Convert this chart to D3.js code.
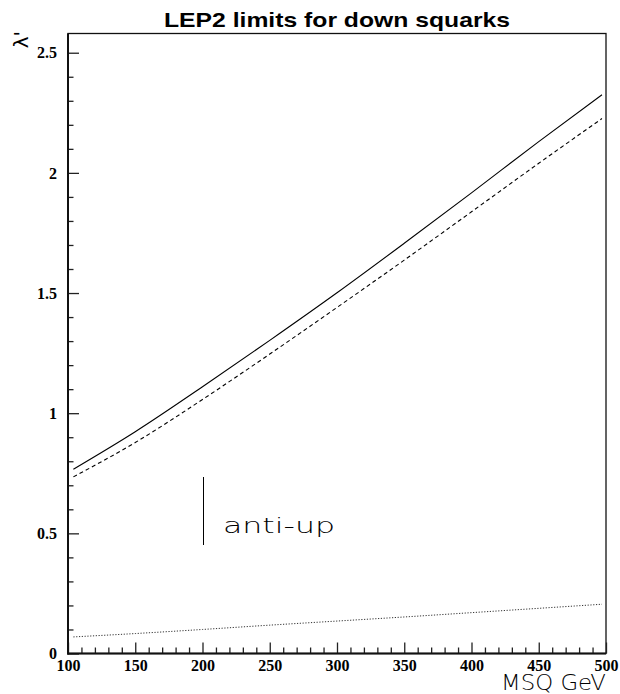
<!DOCTYPE html>
<html>
<head>
<meta charset="utf-8">
<script src="https://cdn.jsdelivr.net/npm/d3@7"></script>
<style>
  html, body { margin: 0; padding: 0; background: #fff; }
  svg { display: block; }
</style>
</head>
<body>
<script>
// Squark mass grid (GeV) and the λ' limits for each curve
const masses      = [104, 150, 200, 250, 300, 350, 400, 450, 497];
const limitSolid  = [0.767, 0.923, 1.110, 1.303, 1.501, 1.707, 1.917, 2.130, 2.325];
const limitDashed = [0.735, 0.878, 1.057, 1.246, 1.440, 1.637, 1.838, 2.040, 2.226];
const limitDotted = [0.069, 0.083, 0.100, 0.118, 0.135, 0.152, 0.170, 0.188, 0.205];

const xMajorTicks = [100, 150, 200, 250, 300, 350, 400, 450, 500];
const yMajorTicks = [0, 0.5, 1, 1.5, 2, 2.5];
const yTickLabels = ["0", "0.5", "1", "1.5", "2", "2.5"];

const W = 620, H = 694;
const plotLeft = 68, plotRight = 606, plotTop = 33.5, plotBottom = 653.5;

const svg = d3.select("body").append("svg").attr("width", W).attr("height", H);

const x = d3.scaleLinear().domain([100, 500]).range([plotLeft, plotRight]);
const y = d3.scaleLinear().domain([0, 2.58]).range([plotBottom, plotTop]);

// Title
svg.append("text")
  .attr("x", (plotLeft + plotRight) / 2).attr("y", 27)
  .attr("text-anchor", "middle")
  .attr("font-family", "Liberation Sans, Arial, sans-serif")
  .attr("font-weight", "bold").attr("font-size", 21)
  .attr("textLength", 346).attr("lengthAdjust", "spacingAndGlyphs")
  .text("LEP2 limits for down squarks");

// Frame
svg.append("rect")
  .attr("x", plotLeft).attr("y", plotTop)
  .attr("width", plotRight - plotLeft).attr("height", plotBottom - plotTop)
  .attr("fill", "none").attr("stroke", "#111").attr("stroke-width", 1.3);

const labelFont = "Liberation Serif, Times New Roman, serif";

// Minor ticks
const xMinor = d3.range(100, 501, 10).filter(v => v % 50 !== 0);
svg.append("g").attr("transform", `translate(0,${plotBottom})`)
  .call(d3.axisBottom(x).tickValues(xMinor).tickSize(-6).tickFormat(""))
  .call(g => g.select(".domain").remove())
  .call(g => g.selectAll("line").attr("stroke", "#222").attr("stroke-width", 1.3));

const yMinor = d3.range(0, 26).map(i => i / 10).filter(v => Math.abs(v * 2 - Math.round(v * 2)) > 1e-6);
svg.append("g").attr("transform", `translate(${plotLeft},0)`)
  .call(d3.axisLeft(y).tickValues(yMinor).tickSize(-5.5).tickFormat(""))
  .call(g => g.select(".domain").remove())
  .call(g => g.selectAll("line").attr("stroke", "#222").attr("stroke-width", 1.3));

// Major ticks with labels
svg.append("g").attr("transform", `translate(0,${plotBottom})`)
  .call(d3.axisBottom(x).tickValues(xMajorTicks).tickSize(-11).tickPadding(6).tickFormat(d3.format("d")))
  .call(g => g.select(".domain").remove())
  .call(g => g.selectAll("line").attr("stroke", "#222").attr("stroke-width", 1.3))
  .call(g => g.selectAll("text")
    .attr("font-family", labelFont).attr("font-weight", "bold")
    .attr("font-size", 16).attr("fill", "#000"));

svg.append("g").attr("transform", `translate(${plotLeft},0)`)
  .call(d3.axisLeft(y).tickValues(yMajorTicks).tickSize(-11).tickPadding(11)
    .tickFormat((d, i) => yTickLabels[i]))
  .call(g => g.select(".domain").remove())
  .call(g => g.selectAll("line").attr("stroke", "#222").attr("stroke-width", 1.3))
  .call(g => g.selectAll("text")
    .attr("font-family", labelFont).attr("font-weight", "bold")
    .attr("font-size", 16).attr("fill", "#000"));

// Heavier left and bottom axis lines
svg.append("line").attr("x1", plotLeft).attr("x2", plotLeft).attr("y1", plotTop).attr("y2", plotBottom + 1)
  .attr("stroke", "#111").attr("stroke-width", 2);
svg.append("line").attr("x1", plotLeft - 1).attr("x2", plotRight).attr("y1", plotBottom).attr("y2", plotBottom)
  .attr("stroke", "#111").attr("stroke-width", 2);

// Curves
const line = d3.line().x(d => x(d[0])).y(d => y(d[1])).curve(d3.curveMonotoneX);
const series = [
  { values: limitSolid,  dash: null,      color: "#000", width: 1.1 },
  { values: limitDashed, dash: "4,3",     color: "#000", width: 1.1 },
  { values: limitDotted, dash: "1.2,1.6", color: "#333", width: 1 }
];
series.forEach(s => {
  svg.append("path")
    .datum(masses.map((m, i) => [m, s.values[i]]))
    .attr("d", line)
    .attr("fill", "none")
    .attr("stroke", s.color)
    .attr("stroke-width", s.width)
    .attr("stroke-dasharray", s.dash);
});

const thinFont = "DejaVu Sans ExtraLight, DejaVu Sans, sans-serif";

// In-plot label with its marker bar
svg.append("line")
  .attr("x1", 203.5).attr("x2", 203.5).attr("y1", 477).attr("y2", 545)
  .attr("stroke", "#000").attr("stroke-width", 1);
svg.append("text")
  .attr("x", 223).attr("y", 533)
  .attr("font-family", thinFont).attr("font-weight", 200).attr("font-size", 22)
  .attr("textLength", 112).attr("lengthAdjust", "spacingAndGlyphs")
  .text("anti-up");

// Axis titles
svg.append("text")
  .attr("x", plotRight).attr("y", 690)
  .attr("text-anchor", "end")
  .attr("font-family", thinFont).attr("font-weight", 200).attr("font-size", 21)
  .attr("textLength", 105).attr("lengthAdjust", "spacingAndGlyphs")
  .text("MSQ GeV");

svg.append("text")
  .attr("transform", "translate(28,31) rotate(-90)")
  .attr("text-anchor", "end")
  .attr("font-family", "DejaVu Sans, sans-serif").attr("font-size", 20)
  .text("λ'");
</script>
</body>
</html>
